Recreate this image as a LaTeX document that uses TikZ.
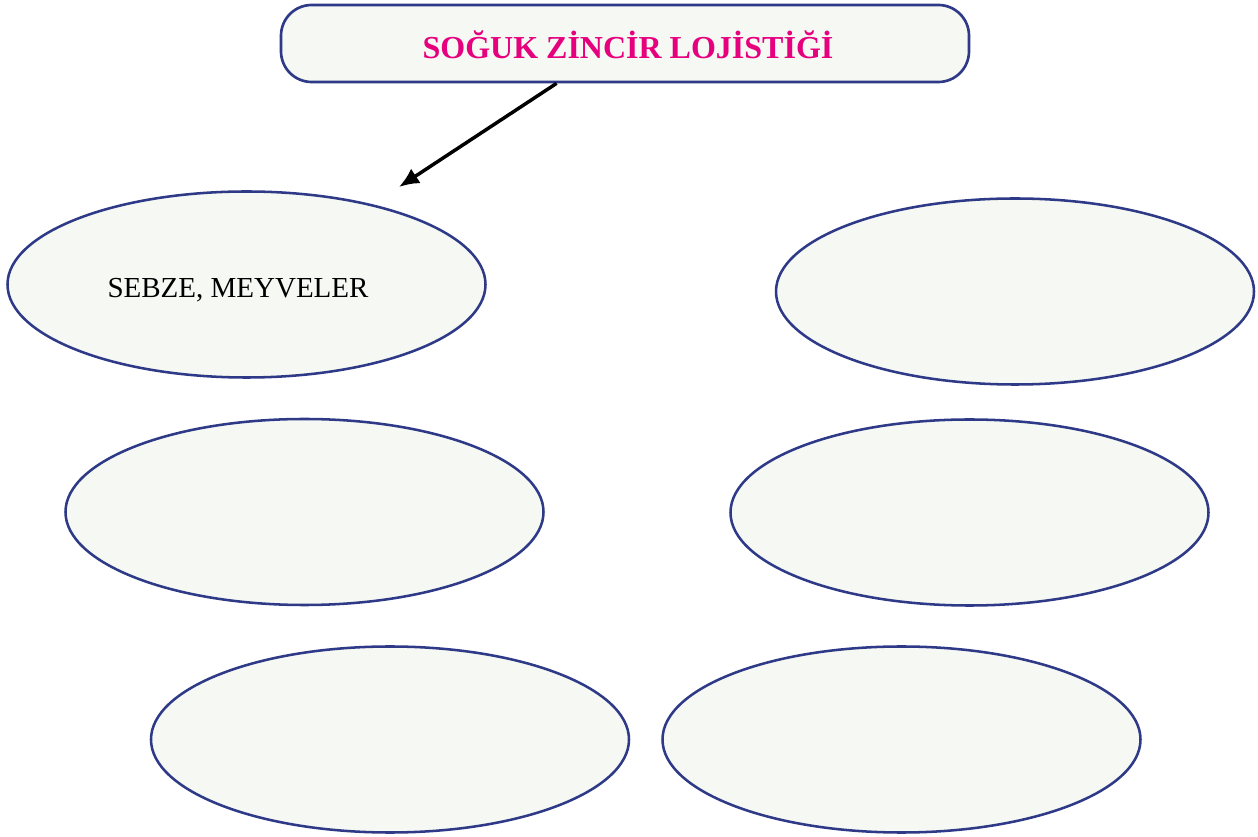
\documentclass[tikz,border=0pt]{standalone}
\usepackage{fontspec}
\setmainfont{Liberation Serif}
\usetikzlibrary{shapes.geometric,arrows.meta,calc}
\definecolor{edgeblue}{HTML}{2E3A87}
\definecolor{fillgray}{HTML}{F5F8F3}
\definecolor{titlepink}{HTML}{E6007E}
\begin{document}
\begin{tikzpicture}[x=0.75pt,y=-0.75pt,
  oval/.style={ellipse,draw=edgeblue,fill=fillgray,line width=1.9pt,inner sep=0pt,
    minimum width=358.5pt,minimum height=139.5pt},
  ovaltext/.style={inner sep=0pt,font=\fontsize{21.75}{26}\selectfont},
  titlebox/.style={rectangle,rounded corners=23pt,draw=edgeblue,fill=fillgray,line width=2pt,
    minimum width=516pt,minimum height=57.75pt,inner sep=0pt},
  titletext/.style={inner sep=0pt,font=\bfseries\fontsize{24}{28}\selectfont,text=titlepink},
  link/.style={line width=2.6pt,-{Latex[length=15pt,width=13pt]}}]
\useasboundingbox (0,0) rectangle (1258,837);
\node[titlebox] (title) at (625,43.5) {};
\node[titletext] (titlelabel) at (628,44.5) {SOĞUK ZİNCİR LOJİSTİĞİ};
\node[oval] (e1) at (246.5,284.5) {};
\node[ovaltext] (e1text) at (238,290) {SEBZE, MEYVELER};
\node[oval] (e2) at (1015,291.5) {};
\node[oval] (e3) at (304.5,512) {};
\node[oval] (e4) at (969.5,512.5) {};
\node[oval] (e5) at (390,739.5) {};
\node[oval] (e6) at (901.5,739.5) {};
\coordinate (from) at ($(title.south west)!0.401!(title.south east)$);
\coordinate (tip) at (399,187);
\draw[link] (from) -- (tip);
\end{tikzpicture}
\end{document}
